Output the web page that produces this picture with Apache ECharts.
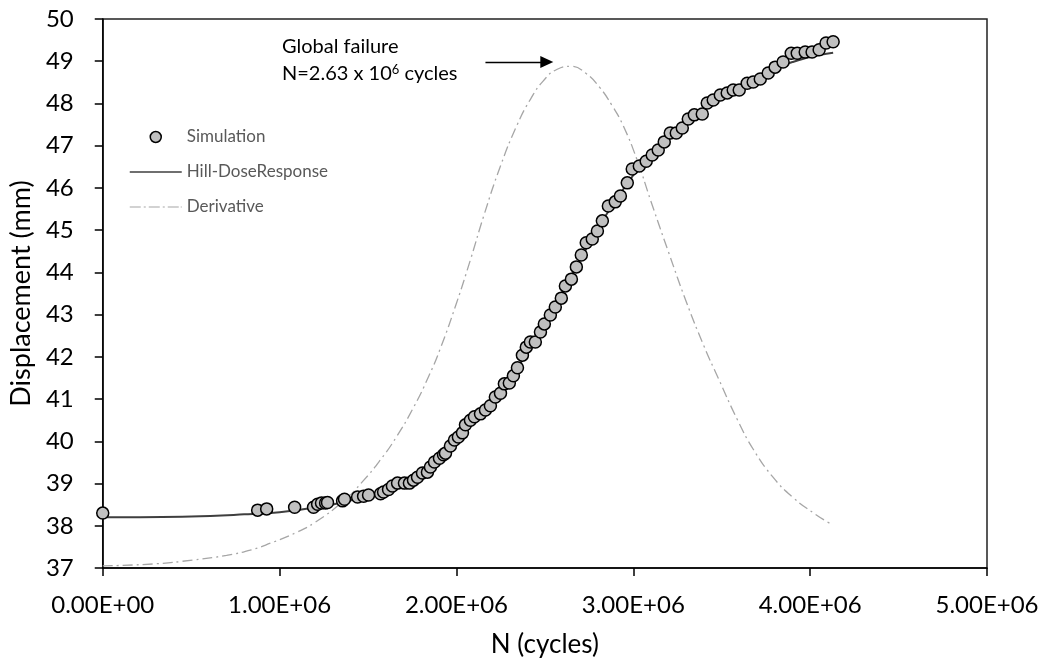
<!DOCTYPE html>
<html><head><meta charset="utf-8">
<script src="https://cdn.jsdelivr.net/npm/echarts@6/dist/echarts.min.js"></script>
<style>html,body{margin:0;padding:0;background:#fff}#c{width:1046px;height:663px}</style>
</head><body><div id="c"></div>
<script>
// Simulation points: [N (millions of cycles), displacement mm]
var simN = [0, 0.876, 0.927, 1.085, 1.192, 1.215, 1.237, 1.260, 1.271, 1.356, 1.367, 1.441, 1.475, 1.503, 1.571, 1.588, 1.616, 1.638, 1.667, 1.706, 1.734, 1.757, 1.780, 1.808, 1.836, 1.853, 1.876, 1.904, 1.927, 1.938, 1.966, 1.989, 2.011, 2.034, 2.051, 2.079, 2.102, 2.136, 2.164, 2.192, 2.220, 2.249, 2.271, 2.299, 2.322, 2.345, 2.373, 2.395, 2.418, 2.446, 2.475, 2.497, 2.531, 2.559, 2.593, 2.616, 2.650, 2.678, 2.706, 2.734, 2.768, 2.797, 2.825, 2.859, 2.898, 2.927, 2.966, 2.994, 3.034, 3.073, 3.107, 3.141, 3.175, 3.209, 3.243, 3.277, 3.311, 3.345, 3.390, 3.418, 3.452, 3.492, 3.531, 3.565, 3.599, 3.644, 3.678, 3.718, 3.763, 3.802, 3.847, 3.893, 3.927, 3.972, 4.011, 4.051, 4.090, 4.130];
var simD = [38.30, 38.37, 38.40, 38.44, 38.44, 38.51, 38.54, 38.54, 38.55, 38.59, 38.63, 38.68, 38.70, 38.73, 38.76, 38.80, 38.86, 38.94, 39.01, 39.01, 39.01, 39.08, 39.15, 39.25, 39.27, 39.39, 39.51, 39.60, 39.68, 39.72, 39.89, 40.03, 40.10, 40.20, 40.39, 40.50, 40.58, 40.65, 40.74, 40.84, 41.05, 41.14, 41.36, 41.38, 41.55, 41.74, 42.04, 42.23, 42.35, 42.35, 42.59, 42.78, 42.99, 43.18, 43.39, 43.68, 43.84, 44.13, 44.41, 44.70, 44.79, 44.98, 45.22, 45.57, 45.67, 45.81, 46.12, 46.45, 46.52, 46.63, 46.78, 46.90, 47.09, 47.30, 47.30, 47.42, 47.63, 47.73, 47.75, 48.01, 48.08, 48.20, 48.25, 48.32, 48.32, 48.48, 48.51, 48.58, 48.72, 48.86, 48.98, 49.19, 49.19, 49.22, 49.22, 49.27, 49.43, 49.46];
// Hill-DoseResponse fit
var hillN = [0, 0.5, 0.8, 1.0, 1.2, 1.4, 1.6, 1.7, 1.8, 1.9, 2.0, 2.1, 2.2, 2.3, 2.4, 2.5, 2.6, 2.7, 2.8, 2.9, 3.0, 3.1, 3.2, 3.3, 3.4, 3.5, 3.6, 3.7, 3.8, 3.9, 4.0, 4.13];
var hillD = [38.20, 38.22, 38.27, 38.32, 38.43, 38.60, 38.85, 39.02, 39.24, 39.55, 40.0, 40.45, 40.92, 41.45, 42.1, 42.75, 43.55, 44.3, 45.05, 45.7, 46.3, 46.8, 47.2, 47.55, 47.88, 48.17, 48.43, 48.65, 48.83, 48.98, 49.1, 49.2];
// Derivative curve (scaled onto displacement axis)
var derivN = [0, 0.3, 0.51, 0.7, 0.84, 0.95, 1.10, 1.2, 1.36, 1.47, 1.57, 1.66, 1.757, 1.84, 1.91, 2.0, 2.08, 2.153, 2.25, 2.345, 2.42, 2.49, 2.57, 2.65, 2.73, 2.81, 2.88, 2.94, 3.02, 3.10, 3.2, 3.3, 3.4, 3.48, 3.59, 3.68, 3.79, 3.90, 4.02, 4.11];
var derivD = [37.05, 37.1, 37.19, 37.3, 37.43, 37.59, 37.85, 38.08, 38.58, 39.05, 39.56, 40.1, 40.8, 41.51, 42.21, 43.27, 44.31, 45.32, 46.53, 47.51, 48.11, 48.53, 48.81, 48.88, 48.72, 48.38, 47.95, 47.5, 46.68, 45.68, 44.47, 43.3, 42.25, 41.5, 40.5, 39.8, 39.15, 38.68, 38.30, 38.06];
var xTickLabels = ['0.00E+00', '1.00E+06', '2.00E+06', '3.00E+06', '4.00E+06', '5.00E+06'];
var yTickLabels = ['37','38','39','40','41','42','43','44','45','46','47','48','49','50'];
var arrowN = [2.164, 2.511];
var arrowD = 48.98;

function pairs(xs, ys) { return xs.map(function (x, i) { return [x * 1e6, ys[i]]; }); }

var FONT = 'Lato';
var chart = echarts.init(document.getElementById('c'));
chart.setOption({
  animation: false,
  textStyle: { fontFamily: FONT },
  grid: { left: 102, right: 59, top: 19, bottom: 95, show: true, borderColor: '#222', borderWidth: 1.5, backgroundColor: 'transparent' },
  xAxis: {
    type: 'value', min: 0, max: 5e6, interval: 1e6,
    name: 'N (cycles)', nameLocation: 'middle', nameGap: 64,
    nameTextStyle: { fontSize: 26, color: '#000', fontFamily: FONT },
    axisLine: { show: true, onZero: false, lineStyle: { color: '#000', width: 1.5 } },
    axisTick: { show: true, inside: false, length: 8, lineStyle: { color: '#000', width: 1.5 } },
    axisLabel: { fontSize: 24, color: '#000', margin: 25, fontFamily: FONT,
      formatter: function (v) { return xTickLabels[Math.round(v / 1e6)]; } },
    splitLine: { show: false }
  },
  yAxis: {
    type: 'value', min: 37, max: 50, interval: 1,
    name: 'Displacement (mm)', nameLocation: 'middle', nameGap: 67, nameRotate: 90,
    nameTextStyle: { fontSize: 27, color: '#000', fontFamily: FONT },
    axisLine: { show: true, onZero: false, lineStyle: { color: '#000', width: 1.5 } },
    axisTick: { show: true, inside: false, length: 8, lineStyle: { color: '#000', width: 1.5 } },
    axisLabel: { fontSize: 24, color: '#000', margin: 29, fontFamily: FONT,
      formatter: function (v) { return yTickLabels[Math.round(v - 37)]; } },
    splitLine: { show: false }
  },
  legend: {
    orient: 'vertical', left: 129, top: 128, padding: 0, itemWidth: 52, itemHeight: 12, itemGap: 17,
    textStyle: { fontSize: 17, lineHeight: 18, color: '#595959', fontFamily: FONT },
    data: [
      { name: 'Simulation',
        icon: 'path://M0,6L0,6M52,6L52,6M20.5,6A5.5,5.5,0,1,1,31.5,6A5.5,5.5,0,1,1,20.5,6Z',
        itemStyle: { color: '#c0c0c0', borderColor: '#000', borderWidth: 1.5 } },
      { name: 'Hill-DoseResponse',
        icon: 'path://M0,0L0,0M52,12L52,12M0,5.2H52V6.8H0Z',
        itemStyle: { color: '#3f3f3f', borderWidth: 0 } },
      { name: 'Derivative',
        icon: 'path://M0,0L0,0M52,12L52,12M0,5.4H11V6.6H0ZM14,5.4H16V6.6H14ZM19,5.4H30V6.6H19ZM33,5.4H35V6.6H33ZM38,5.4H49V6.6H38ZM51,5.4H52V6.6H51Z',
        itemStyle: { color: '#a6a6a6', borderWidth: 0 } }
    ]
  },
  series: [
    {
      name: 'Derivative', type: 'line', smooth: 0.5, showSymbol: false, symbol: 'none',
      data: pairs(derivN, derivD), z: 1,
      lineStyle: { color: '#a6a6a6', width: 1.3, type: [10, 4, 2, 4] },
      itemStyle: { color: '#a6a6a6' }
    },
    {
      name: 'Hill-DoseResponse', type: 'line', smooth: 0.4, showSymbol: false, symbol: 'none',
      data: pairs(hillN, hillD), z: 2,
      lineStyle: { color: '#3f3f3f', width: 2 },
      itemStyle: { color: '#3f3f3f' },
      markLine: {
        silent: true, symbol: ['none', 'triangle'], symbolSize: [12, 13],
        label: { show: false },
        lineStyle: { color: '#000', width: 1.3, type: 'solid' },
        data: [[{ coord: [arrowN[0] * 1e6, arrowD] }, { coord: [arrowN[1] * 1e6, arrowD] }]]
      }
    },
    {
      name: 'Simulation', type: 'scatter', symbol: 'circle', symbolSize: 12,
      data: pairs(simN, simD), z: 3,
      itemStyle: { color: '#c0c0c0', borderColor: '#000', borderWidth: 1.5, opacity: 1 }
    }
  ],
  graphic: [
    { type: 'text', left: 282, top: 37, style: { text: 'Global failure', font: '20px ' + FONT, fill: '#000' } },
    { type: 'text', left: 282, top: 63, style: {
        text: 'N=2.63 x 10{sup|6} cycles', font: '20px ' + FONT, fill: '#000',
        rich: { sup: { fontSize: 13, verticalAlign: 'top', padding: [0, 0, 9, 0], fontFamily: FONT } }
    } }
  ]
});
</script></body></html>
